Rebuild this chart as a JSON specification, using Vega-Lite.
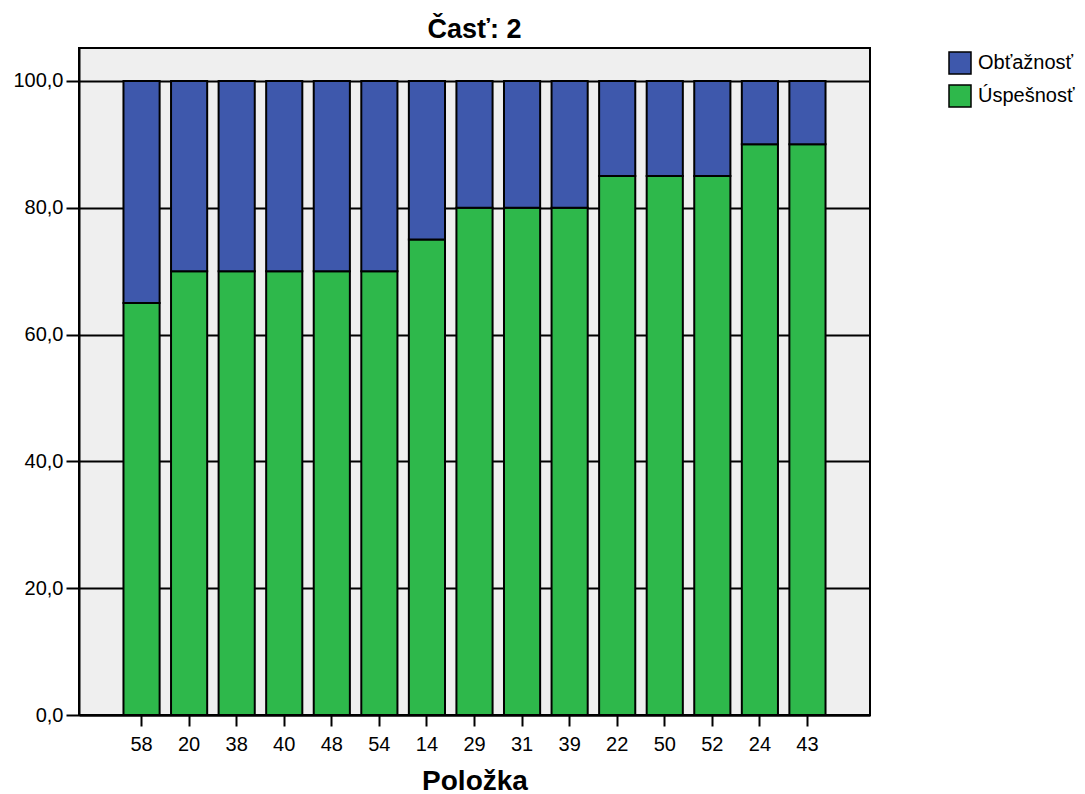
{
  "$schema": "https://vega.github.io/schema/vega-lite/v6.json",
  "autosize": {"type": "none"},
  "width": 791,
  "height": 667,
  "padding": {"left": 79, "top": 48, "right": 215, "bottom": 79},
  "background": "white",
  "config": {
    "font": "Liberation Sans",
    "view": {"fill": "#efefef", "stroke": "black", "strokeWidth": 2}
  },
  "title": {"text": "Časť: 2", "fontSize": 27, "fontWeight": "bold", "font": "Liberation Sans", "anchor": "middle", "offset": 4, "color": "black"},
  "data": {
    "values": [
      {"polozka": "58", "typ": "Úspešnosť", "hodnota": 65}, {"polozka": "58", "typ": "Obťažnosť", "hodnota": 35},
      {"polozka": "20", "typ": "Úspešnosť", "hodnota": 70}, {"polozka": "20", "typ": "Obťažnosť", "hodnota": 30},
      {"polozka": "38", "typ": "Úspešnosť", "hodnota": 70}, {"polozka": "38", "typ": "Obťažnosť", "hodnota": 30},
      {"polozka": "40", "typ": "Úspešnosť", "hodnota": 70}, {"polozka": "40", "typ": "Obťažnosť", "hodnota": 30},
      {"polozka": "48", "typ": "Úspešnosť", "hodnota": 70}, {"polozka": "48", "typ": "Obťažnosť", "hodnota": 30},
      {"polozka": "54", "typ": "Úspešnosť", "hodnota": 70}, {"polozka": "54", "typ": "Obťažnosť", "hodnota": 30},
      {"polozka": "14", "typ": "Úspešnosť", "hodnota": 75}, {"polozka": "14", "typ": "Obťažnosť", "hodnota": 25},
      {"polozka": "29", "typ": "Úspešnosť", "hodnota": 80}, {"polozka": "29", "typ": "Obťažnosť", "hodnota": 20},
      {"polozka": "31", "typ": "Úspešnosť", "hodnota": 80}, {"polozka": "31", "typ": "Obťažnosť", "hodnota": 20},
      {"polozka": "39", "typ": "Úspešnosť", "hodnota": 80}, {"polozka": "39", "typ": "Obťažnosť", "hodnota": 20},
      {"polozka": "22", "typ": "Úspešnosť", "hodnota": 85}, {"polozka": "22", "typ": "Obťažnosť", "hodnota": 15},
      {"polozka": "50", "typ": "Úspešnosť", "hodnota": 85}, {"polozka": "50", "typ": "Obťažnosť", "hodnota": 15},
      {"polozka": "52", "typ": "Úspešnosť", "hodnota": 85}, {"polozka": "52", "typ": "Obťažnosť", "hodnota": 15},
      {"polozka": "24", "typ": "Úspešnosť", "hodnota": 90}, {"polozka": "24", "typ": "Obťažnosť", "hodnota": 10},
      {"polozka": "43", "typ": "Úspešnosť", "hodnota": 90}, {"polozka": "43", "typ": "Obťažnosť", "hodnota": 10}
    ]
  },
  "mark": {"type": "bar", "stroke": "black", "strokeWidth": 2},
  "encoding": {
    "x": {
      "field": "polozka", "type": "nominal", "sort": null,
      "scale": {"paddingInner": 0.24, "paddingOuter": 0.935},
      "axis": {
        "title": "Položka", "titleFontSize": 28, "titleFontWeight": "bold", "titleColor": "black", "titlePadding": 13,
        "labelAngle": 0, "labelFontSize": 20, "labelColor": "black", "labelPadding": 8,
        "tickSize": 11, "tickWidth": 2, "tickColor": "black",
        "domain": true, "domainColor": "black", "domainWidth": 2, "grid": false
      }
    },
    "y": {
      "field": "hodnota", "type": "quantitative", "stack": "zero",
      "scale": {"domain": [0, 105.2], "nice": false},
      "axis": {
        "title": null, "values": [0, 20, 40, 60, 80, 100],
        "labelExpr": "replace(format(datum.value, '.1f'), '.', ',')",
        "labelFontSize": 20, "labelColor": "black", "labelPadding": 3,
        "tickSize": 13, "tickWidth": 2, "tickColor": "black",
        "domain": true, "domainColor": "black", "domainWidth": 2,
        "grid": true, "gridColor": "black", "gridWidth": 2, "gridOpacity": 1
      }
    },
    "color": {
      "field": "typ", "type": "nominal",
      "scale": {"domain": ["Obťažnosť", "Úspešnosť"], "range": ["#3e58ac", "#2eb84b"]},
      "legend": {
        "title": null, "orient": "none", "legendX": 869, "legendY": 3,
        "symbolType": "square", "symbolSize": 484, "symbolStrokeColor": "black", "symbolStrokeWidth": 1.5, "symbolOpacity": 1,
        "labelFontSize": 20, "labelColor": "black", "labelOffset": 6, "rowPadding": 5, "padding": 0
      }
    },
    "order": {"field": "typ", "sort": "descending"}
  }
}
